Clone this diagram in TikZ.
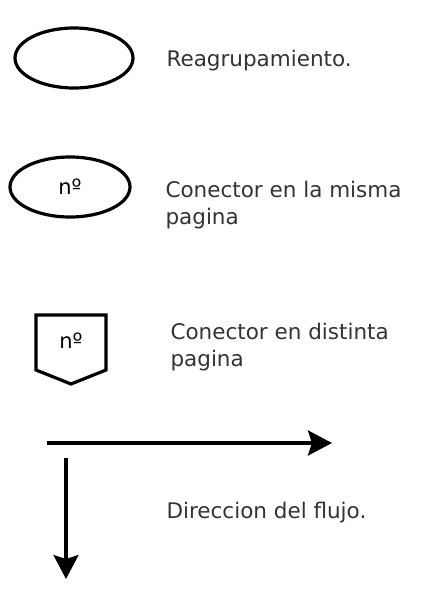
\documentclass[tikz,border=0pt]{standalone}
\usepackage{fontspec}
\setmainfont{DejaVu Sans}
\usetikzlibrary{shapes.geometric}
\usetikzlibrary{arrows.meta}

\begin{document}
\begin{tikzpicture}[x=1pt,y=-1pt,
    conector/.style={ellipse, draw, line width=3.2pt, minimum width=#1, minimum height=60pt, inner sep=0pt},
    etiqueta/.style={anchor=west, align=left, text=black!80, font=\fontsize{21.5}{27}\selectfont},
    flujo/.style={line width=3.2pt, -{Stealth[length=24pt,width=25pt,inset=4pt]}}]
      \useasboundingbox (0,0) rectangle (422,600);

      \node[conector=118pt] (reagrup) at (74,58) {};
      \node[etiqueta] (txtreagrup) at (163,61) {Reagrupamiento.};

      \node[conector=120pt, font=\fontsize{21}{24}\selectfont] (misma) at (70,187) {n\textordmasculine};
      \node[etiqueta] (txtmisma) at (162,205) {Conector en la misma\\pagina};

      \draw[line width=3.2pt, line join=miter] (36,315) -- (106,315) -- (106,370) -- (71,384) -- (36,370) -- cycle;
      \node[font=\fontsize{21}{24}\selectfont] (distinta) at (71,341) {n\textordmasculine};
      \node[etiqueta] (txtdistinta) at (167,347) {Conector en distinta\\pagina};

      \coordinate (horiz) at (47,443);
      \coordinate (horizfin) at (332,443);
      \coordinate (vert) at (66,458);
      \coordinate (vertfin) at (66,579);
      \draw[flujo] (horiz) -- (horizfin);
      \draw[flujo] (vert) -- (vertfin);
      \node[etiqueta] (txtflujo) at (163,513) {Direccion del flujo.};
    \end{tikzpicture}
\end{document}
